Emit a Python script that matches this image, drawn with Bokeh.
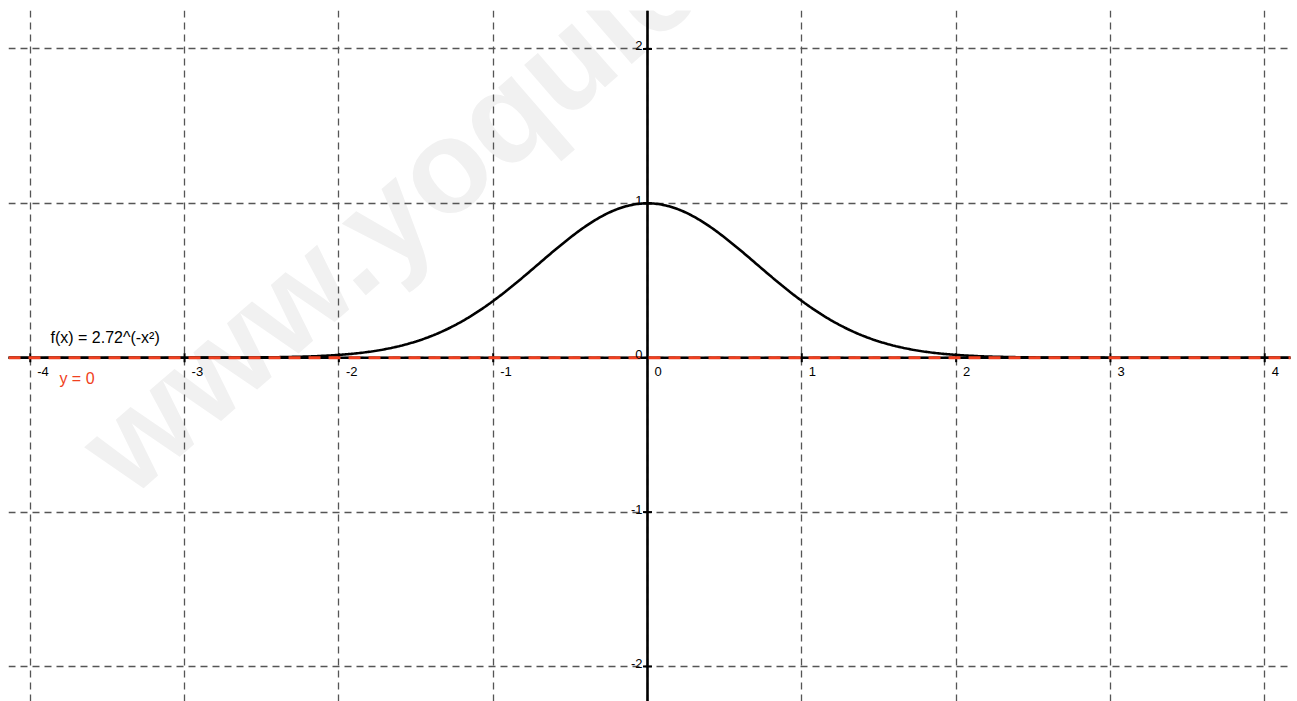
import math
import numpy as np
from bokeh.plotting import figure
from bokeh.models import Range1d, FixedTicker, Span
from bokeh.core.properties import value
from bokeh.embed import file_html
from bokeh.resources import INLINE

# Function shown: f(x) = base^(-x^2)
base = 2.72
formula_label = "f(x) = 2.72^(-x²)"
line_label = "y = 0"

# Grid / tick values
x_ticks = [-4, -3, -2, -1, 0, 1, 2, 3, 4]
y_ticks = [-2, -1, 0, 1, 2]
x_tick_labels = ["-4", "-3", "-2", "-1", "0", "1", "2", "3", "4"]
y_tick_labels = ["-2", "-1", "0", "1", "2"]

watermark = "www.yoquieroaprobar.es"

FONT = "Liberation Sans"
RED = "#F04020"

x_lo, x_hi = -4.141, 4.167
y_lo, y_hi = -2.227, 2.249

p = figure(width=1297, height=701, output_backend="svg", toolbar_location=None,
           x_range=Range1d(x_lo, x_hi), y_range=Range1d(y_lo, y_hi),
           x_axis_location=None, y_axis_location=None,
           min_border_left=8, min_border_right=7, min_border_top=10, min_border_bottom=0)
p.outline_line_color = None
p.background_fill_color = "white"
p.border_fill_color = "white"

# faint diagonal watermark under everything
p.text(x=[-3.545], y=[-0.698], text=[watermark], angle=math.radians(41),
       text_font=value(FONT), text_font_size="132px", text_font_style="bold",
       text_color="#f1f1f1", text_align="left", text_baseline="alphabetic", level="image")

# dashed grid
p.xgrid.ticker = FixedTicker(ticks=x_ticks)
p.ygrid.ticker = FixedTicker(ticks=y_ticks)
for g in (p.xgrid, p.ygrid):
    g.grid_line_color = "#555555"
    g.grid_line_width = 1.3
    g.grid_line_dash = "7 5"

# coordinate axes
p.add_layout(Span(location=0, dimension="width", line_color="black", line_width=2.6, level="underlay"))
p.add_layout(Span(location=0, dimension="height", line_color="black", line_width=2.6, level="underlay"))

# small tick marks on the axes
xt = [t for t in x_ticks if t != 0]
yt = [t for t in y_ticks if t != 0]
p.scatter(x=xt, y=[0] * len(xt), marker="dash", angle=math.pi / 2, size=9,
          line_color="black", line_width=2)
p.scatter(x=[0] * len(yt), y=yt, marker="dash", size=9, line_color="black", line_width=2)

# the curve, then the red dashed line y = 0 on top of it
xs = np.linspace(-4.4, 4.4, 881)
p.line(xs, base ** (-xs ** 2), line_color="black", line_width=2.6)
p.line(xs, np.zeros_like(xs), line_color=RED, line_width=3, line_dash="12 8")

# tick labels
p.text(x=x_ticks, y=[0] * len(x_ticks), text=x_tick_labels, x_offset=7, y_offset=9,
       text_font=value(FONT), text_font_size="13px", text_color="black",
       text_align="left", text_baseline="top")
p.text(x=[0] * len(y_ticks), y=y_ticks, text=y_tick_labels, x_offset=-5, y_offset=-3,
       text_font=value(FONT), text_font_size="13px", text_color="black",
       text_align="right", text_baseline="alphabetic")

# object labels
p.text(x=[-3.869], y=[0.131], text=[formula_label], text_font=value(FONT),
       text_font_size="16px", text_color="black", text_align="left", text_baseline="alphabetic")
p.text(x=[-3.811], y=[-0.135], text=[line_label], text_font=value(FONT),
       text_font_size="16px", text_color=RED, text_align="left", text_baseline="alphabetic")

open("out.html", "w").write(file_html(p, INLINE))
